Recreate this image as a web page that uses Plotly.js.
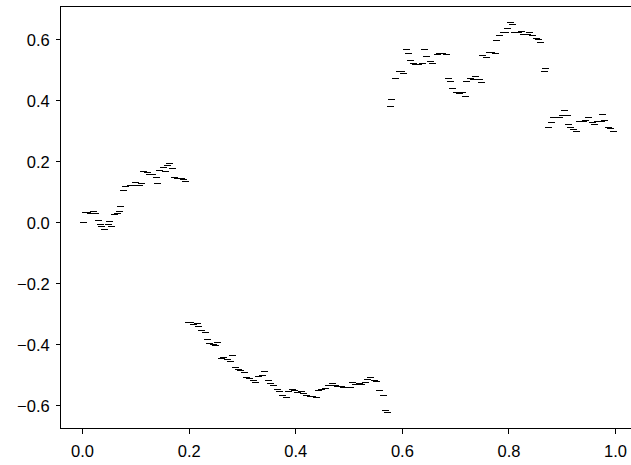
<!DOCTYPE html>
<html>
<head>
<meta charset="utf-8">
<script src="https://cdn.plot.ly/plotly-3.0.1.min.js"></script>
<style>
html,body{margin:0;padding:0;background:#fff;}
#chart{width:631px;height:465px;}
#chart .scatterlayer path.point{shape-rendering:crispEdges;}
#chart path.xlines-above, #chart path.ylines-above, #chart path.xtick, #chart path.ytick{shape-rendering:crispEdges;}
</style>
</head>
<body>
<div id="chart"></div>
<script>
var timeValues = [
  0.001,0.005,0.010,0.014,0.020,0.025,0.029,0.033,0.036,0.042,0.048,0.051,0.055,0.059,0.065,0.070,0.072,0.076,0.081,0.089,
  0.095,0.100,0.106,0.111,0.115,0.121,0.126,0.132,0.138,0.141,0.145,0.151,0.156,0.160,0.163,0.168,0.173,0.179,0.185,0.190,
  0.194,0.198,0.203,0.209,0.215,0.218,0.224,0.230,0.234,0.239,0.245,0.250,0.254,0.260,0.265,0.271,0.277,0.282,0.286,0.292,
  0.297,0.303,0.308,0.314,0.320,0.325,0.331,0.337,0.342,0.348,0.353,0.359,0.365,0.370,0.376,0.382,0.387,0.393,0.398,0.404,
  0.410,0.415,0.421,0.427,0.432,0.438,0.443,0.449,0.455,0.462,0.468,0.474,0.479,0.485,0.490,0.496,0.502,0.507,0.513,0.519,
  0.524,0.530,0.535,0.541,0.547,0.552,0.558,0.564,0.569,0.573,0.577,0.580,0.588,0.594,0.599,0.603,0.607,0.611,0.616,0.620,
  0.625,0.631,0.637,0.642,0.646,0.652,0.657,0.665,0.670,0.676,0.682,0.686,0.691,0.695,0.701,0.707,0.712,0.718,0.721,0.727,
  0.733,0.738,0.744,0.749,0.751,0.757,0.763,0.768,0.774,0.777,0.783,0.789,0.794,0.798,0.802,0.806,0.811,0.817,0.823,0.828,
  0.834,0.839,0.845,0.851,0.856,0.860,0.866,0.869,0.875,0.879,0.884,0.890,0.895,0.901,0.905,0.909,0.912,0.916,0.922,0.927,
  0.933,0.939,0.944,0.950,0.956,0.961,0.967,0.973,0.976,0.980,0.986,0.991,0.997
];
var pathValues = [
  0.000,0.034,0.034,0.032,0.036,0.032,0.007,-0.007,-0.013,-0.023,-0.007,0.006,-0.013,0.026,0.032,0.036,0.052,0.105,0.118,0.124,
  0.121,0.131,0.121,0.128,0.167,0.164,0.160,0.157,0.150,0.128,0.173,0.183,0.167,0.187,0.196,0.177,0.150,0.147,0.144,0.141,
  0.137,-0.328,-0.328,-0.334,-0.331,-0.341,-0.354,-0.361,-0.384,-0.397,-0.400,-0.403,-0.394,-0.446,-0.443,-0.449,-0.456,-0.436,-0.475,-0.482,
  -0.485,-0.492,-0.508,-0.511,-0.518,-0.525,-0.505,-0.502,-0.489,-0.518,-0.528,-0.534,-0.548,-0.554,-0.567,-0.574,-0.554,-0.548,-0.551,-0.557,
  -0.554,-0.561,-0.567,-0.570,-0.570,-0.574,-0.551,-0.548,-0.544,-0.534,-0.528,-0.534,-0.538,-0.538,-0.541,-0.541,-0.541,-0.525,-0.531,-0.528,
  -0.531,-0.525,-0.515,-0.508,-0.518,-0.521,-0.551,-0.567,-0.617,-0.623,0.383,0.406,0.475,0.495,0.495,0.489,0.567,0.557,0.534,0.524,
  0.521,0.518,0.524,0.567,0.547,0.528,0.524,0.551,0.554,0.557,0.551,0.472,0.462,0.442,0.429,0.423,0.429,0.416,0.465,0.472,
  0.469,0.479,0.469,0.459,0.550,0.541,0.560,0.560,0.557,0.597,0.613,0.623,0.626,0.636,0.656,0.649,0.626,0.623,0.629,0.619,
  0.619,0.623,0.616,0.606,0.600,0.590,0.498,0.505,0.314,0.328,0.344,0.347,0.344,0.351,0.367,0.351,0.324,0.314,0.305,0.298,
  0.334,0.331,0.337,0.344,0.328,0.324,0.331,0.334,0.354,0.337,0.314,0.308,0.298
];
var xTickVals = [0.0, 0.2, 0.4, 0.6, 0.8, 1.0];
var yTickVals = [-0.6, -0.4, -0.2, 0.0, 0.2, 0.4, 0.6];

var trace = {
  x: timeValues,
  y: pathValues,
  type: 'scatter',
  mode: 'markers',
  marker: {symbol: 'line-ew', size: 5, color: '#000', line: {color: '#000', width: 1}},
  hoverinfo: 'skip'
};

var layout = {
  width: 631,
  height: 465,
  margin: {l: 61, r: 0, t: 7, b: 37, pad: 0},
  paper_bgcolor: '#fff',
  plot_bgcolor: '#fff',
  showlegend: false,
  font: {family: '"Liberation Sans", Arial, sans-serif', size: 16.5, color: '#000'},
  xaxis: {
    range: [-0.0405, 1.029],
    tickvals: xTickVals,
    tickformat: '.1f',
    ticks: 'outside',
    ticklen: 5,
    tickwidth: 1,
    tickcolor: '#000',
    showline: true,
    linecolor: '#000',
    linewidth: 1,
    mirror: true,
    showgrid: false,
    zeroline: false,
    ticklabelstandoff: 3
  },
  yaxis: {
    range: [-0.673, 0.708],
    tickvals: yTickVals,
    tickformat: '.1f',
    ticks: 'outside',
    ticklen: 4,
    tickwidth: 1,
    tickcolor: '#000',
    showline: true,
    linecolor: '#000',
    linewidth: 1,
    mirror: false,
    showgrid: false,
    zeroline: false,
    ticklabelstandoff: 3
  }
};

Plotly.newPlot('chart', [trace], layout, {staticPlot: true, displayModeBar: false});
</script>
</body>
</html>
